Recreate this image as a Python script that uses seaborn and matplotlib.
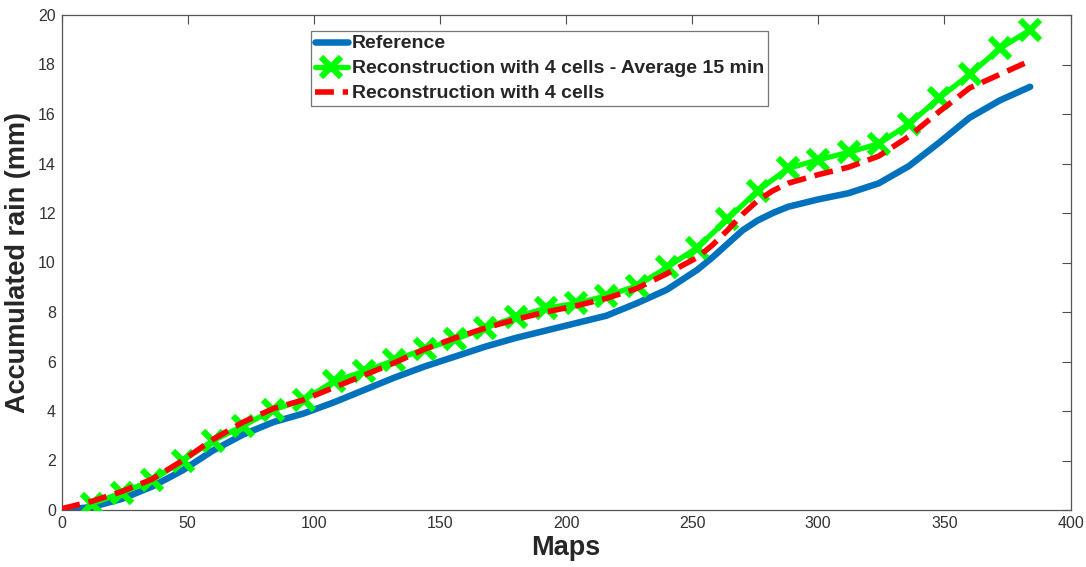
import matplotlib
matplotlib.use("Agg")
import matplotlib.pyplot as plt
import seaborn as sns
import pandas as pd

# Map index where values were read
maps_ref = [0, 12, 24, 36, 48, 60, 72, 84, 96, 108, 120, 132, 144, 156, 168, 180, 192,
            204, 216, 228, 240, 252, 258, 264, 270, 276, 282, 288, 300, 312, 324, 336,
            348, 360, 372, 384]
reference = [0.0, 0.12, 0.45, 0.95, 1.6, 2.4, 3.05, 3.55, 3.9, 4.35, 4.85, 5.35, 5.8, 6.2,
             6.6, 6.95, 7.25, 7.55, 7.85, 8.35, 8.9, 9.7, 10.2, 10.75, 11.3, 11.7, 12.0,
             12.25, 12.55, 12.8, 13.2, 13.9, 14.85, 15.85, 16.55, 17.1]
recon4 = [0.05, 0.35, 0.75, 1.25, 2.0, 2.85, 3.55, 4.1, 4.45, 4.95, 5.45, 5.95, 6.5, 6.95,
          7.35, 7.7, 8.0, 8.25, 8.55, 8.95, 9.55, 10.2, 10.7, 11.3, 11.95, 12.5, 12.9,
          13.2, 13.55, 13.85, 14.3, 15.1, 16.1, 17.05, 17.6, 18.15]
maps_avg = [12, 24, 36, 48, 60, 72, 84, 96, 108, 120, 132, 144, 156, 168, 180, 192, 204,
            216, 228, 240, 252, 264, 276, 288, 300, 312, 324, 336, 348, 360, 372, 384]
recon4_avg = [0.25, 0.7, 1.2, 2.0, 2.8, 3.4, 4.05, 4.45, 5.2, 5.6, 6.05, 6.5, 6.9, 7.35,
              7.8, 8.15, 8.35, 8.65, 9.05, 9.8, 10.6, 11.75, 12.9, 13.8, 14.15, 14.45,
              14.8, 15.6, 16.65, 17.6, 18.65, 19.4]

labels = ["Reference", "Reconstruction with 4 cells - Average 15 min", "Reconstruction with 4 cells"]

sns.set_theme(style="white")
plt.rcParams['font.family'] = ['Liberation Sans', 'DejaVu Sans']
plt.rcParams['xtick.direction'] = 'in'
plt.rcParams['ytick.direction'] = 'in'

fig = plt.figure(figsize=(10.86, 5.67), dpi=100)
ax = fig.add_axes([61.5 / 1086, 1 - 510 / 567, 1009 / 1086, 495 / 567])

df_ref = pd.DataFrame({"x": maps_ref, "y": reference})
df_rec = pd.DataFrame({"x": maps_ref, "y": recon4})
df_avg = pd.DataFrame({"x": maps_avg, "y": recon4_avg})

sns.lineplot(data=df_ref, x="x", y="y", ax=ax, color="#0072BD", linewidth=4.7,
             label=labels[0], zorder=2)
sns.lineplot(data=df_avg, x="x", y="y", ax=ax, color="#00FF00", linewidth=3.8,
             marker="x", markersize=15, markeredgewidth=4.5, markeredgecolor="#00FF00",
             label=labels[1], zorder=3)
sns.lineplot(data=df_rec, x="x", y="y", ax=ax, color="#FF0000", linewidth=4.0,
             dashes=False, label=labels[2], zorder=4)
ax.lines[-1].set_linestyle((0, (3.4, 1.6)))

ax.set_xlim(0, 400)
ax.set_ylim(0, 20)
ax.set_xticks(range(0, 401, 50))
ax.set_yticks(range(0, 21, 2))
ax.tick_params(axis='both', which='both', top=True, right=True, length=6.5, width=0.8,
               color='#4d4d4d', labelsize=11.5, labelcolor='#333333', pad=4)
for s in ax.spines.values():
    s.set_color('#555555')
    s.set_linewidth(0.9)

ax.set_xlabel("Maps", fontsize=19.5, fontweight='bold', labelpad=3)
ax.set_ylabel("Accumulated rain (mm)", fontsize=19.5, fontweight='bold', labelpad=5)

leg = ax.legend(loc='upper left', bbox_to_anchor=(0.2473, 0.9677), borderaxespad=0,
                prop={'weight': 'bold', 'size': 14}, frameon=True,
                fancybox=False, edgecolor='#555555', handlelength=1.7, handletextpad=0.2,
                borderpad=0.2, labelspacing=0.38)
leg.get_frame().set_linewidth(0.9)

fig.savefig("out.png", dpi=100)
